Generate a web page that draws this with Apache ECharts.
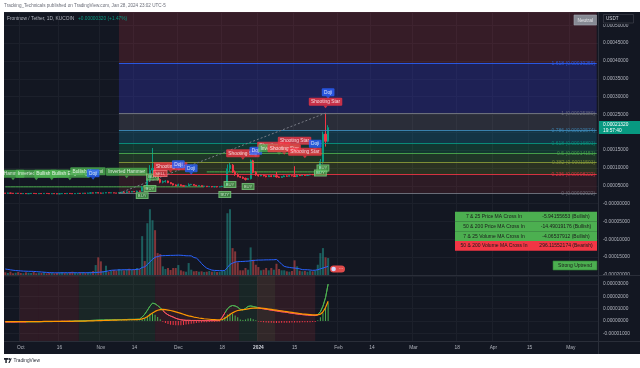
<!DOCTYPE html>
<html>
<head>
<meta charset="utf-8">
<title>Frontnow / Tether 1D</title>
<script src="https://cdn.jsdelivr.net/npm/echarts@6/dist/echarts.min.js"></script>
<style>
html,body{margin:0;padding:0;background:#ffffff;}
#chart{width:640px;height:368px;}
</style>
</head>
<body>
<div id="chart"></div>
<script>
// ================= DATA (prices in units of 1e-5 USDT) =================
const priceUnit = 1e-5;
const firstDay = '2023-09-25';
const lastDay = '2024-05-11';

// daily candles from 2023-09-25 to 2024-01-28: [open, close, low, high]
const candles = [
[2.95,2.90,2.82,3.02],[2.90,2.97,2.86,3.05],[2.97,2.93,2.88,3.03],[2.93,2.86,2.80,2.98],[2.86,2.92,2.82,2.99],
[2.92,2.88,2.83,2.96],[2.88,2.80,2.74,2.93],[2.80,2.85,2.76,2.92],[2.85,2.78,2.72,2.90],[2.78,2.83,2.74,2.88],
[2.83,2.90,2.79,2.97],[2.90,2.84,2.80,2.95],[2.84,2.79,2.73,2.88],[2.79,2.86,2.75,2.91],[2.86,2.82,2.77,2.93],
[2.82,2.88,2.78,2.95],[2.88,2.84,2.79,2.92],[2.84,2.77,2.71,2.89],[2.77,2.83,2.73,2.90],[2.83,2.80,2.75,2.88],
[2.80,2.74,2.68,2.85],[2.74,2.79,2.70,2.84],[2.79,2.85,2.75,2.92],[2.85,2.81,2.76,2.90],[2.81,2.88,2.78,2.95],
[2.88,2.83,2.79,2.97],[2.83,2.78,2.72,2.88],[2.78,2.84,2.74,2.90],[2.84,2.90,2.80,2.98],[2.90,2.86,2.81,2.94],
[2.86,2.93,2.83,3.00],[2.93,2.89,2.84,2.98],[2.89,2.95,2.86,3.06],[2.95,3.02,2.90,3.12],[3.02,2.96,2.90,3.10],
[2.96,3.08,2.92,3.25],[3.08,2.97,2.90,3.20],[2.97,2.93,2.88,3.08],[2.93,2.99,2.90,3.06],[2.99,3.06,2.95,3.14],
[3.06,3.00,2.96,3.10],[3.00,3.04,2.96,3.09],[3.04,2.98,2.94,3.07],[2.98,2.95,2.93,3.02],[2.95,3.08,2.922,3.15],
[3.08,3.20,3.04,3.30],[3.20,3.14,3.08,3.28],[3.14,3.30,3.10,3.40],[3.30,3.26,3.18,3.42],[3.26,3.40,3.22,3.50],
[3.40,3.36,3.28,3.55],[3.36,3.52,3.32,3.65],[3.52,3.48,3.40,3.62],[3.48,4.60,3.44,5.00],[4.60,4.20,4.05,4.80],
[4.20,6.60,4.15,7.20],[6.60,9.40,6.30,10.8],[9.40,9.90,8.50,15.6],[9.90,7.80,7.50,10.4],[7.80,6.80,6.50,8.20],
[6.80,6.00,5.70,7.10],[6.00,6.20,5.70,6.50],[6.20,6.35,5.90,6.60],[6.35,5.90,5.75,6.45],[5.90,5.60,5.45,6.00],
[5.60,5.25,5.10,5.70],[5.25,5.00,4.85,5.40],[5.00,5.30,4.95,5.60],[5.30,5.05,4.95,5.40],[5.05,4.90,4.80,5.15],
[4.90,4.95,4.80,5.05],[4.95,5.30,4.90,5.70],[5.30,5.40,5.15,5.55],[5.40,5.15,5.05,5.45],[5.15,4.95,4.85,5.20],
[4.95,5.05,4.90,5.15],[5.05,4.85,4.75,5.10],[4.85,4.90,4.75,5.00],[4.90,4.75,4.65,4.95],[4.75,4.80,4.65,4.90],
[4.80,4.70,4.60,4.85],[4.70,4.78,4.62,4.88],[4.78,4.68,4.58,4.82],[4.68,4.74,4.60,4.85],[4.74,4.85,4.65,5.00],
[4.85,5.20,4.80,5.60],[5.20,9.80,5.10,11.0],[9.80,10.8,8.90,11.4],[10.8,8.90,8.60,11.1],[8.90,8.20,7.80,9.30],
[8.20,7.60,7.40,8.50],[7.60,7.40,7.20,7.80],[7.40,7.10,6.90,7.60],[7.10,6.80,6.50,7.30],[6.80,7.00,6.70,7.20],
[7.00,12.0,6.80,12.4],[12.0,8.80,8.50,12.3],[8.80,8.10,7.80,9.10],[8.10,7.80,7.60,8.30],[7.80,8.00,7.70,8.20],
[8.00,7.80,7.65,8.10],[7.80,7.55,7.40,7.90],[7.55,7.80,7.50,8.00],[7.80,7.60,7.45,7.95],[7.60,7.85,7.55,8.05],
[7.85,7.50,7.30,8.90],[7.50,7.35,7.20,7.65],[7.35,7.55,7.30,7.70],[7.55,7.75,7.50,7.95],[7.75,7.70,7.60,7.90],
[7.70,7.85,7.65,8.00],[7.85,7.80,7.70,7.95],[7.80,7.60,7.50,10.5],[7.60,7.95,7.55,8.30],[7.95,7.85,7.75,8.10],
[7.85,8.00,7.80,8.15],[8.00,7.90,7.80,8.10],[7.90,8.05,7.85,8.20],[8.05,8.20,7.95,8.35],[8.20,8.10,8.00,8.30],
[8.10,8.40,8.05,8.60],[8.40,8.90,8.30,9.30],[8.90,11.8,8.70,12.5],[11.8,19.5,11.2,20.2],[19.5,17.5,16.0,25.38],
[17.5,21.32,17.2,22.0]
];

// volume (relative units)
const volume = [
2.7,2.0,3.3,1.7,2.3,3.0,2.0,1.7,2.7,2.3,
2.0,3.0,1.7,2.3,2.0,2.7,1.7,2.0,2.3,1.7,
2.0,2.7,3.0,2.3,2.0,2.7,3.3,2.3,2.0,2.7,
3.0,2.3,2.7,3.3,4.0,10.0,17.7,13.7,4.0,9.3,
3.3,4.0,5.0,4.3,6.0,5.3,4.7,5.7,6.3,5.0,
5.7,7.0,6.0,39,14,52,66,55,45,22,
21,8.7,6,7,5,7,7,10,4.7,3.7,
3.3,12,5.3,3.7,4.0,3.3,3.7,3.0,3.3,4.0,
3.3,3.7,3.0,3.3,4.0,4.3,62,66,27,23.7,
12.7,4.7,4.7,7,5.3,27.7,15.3,10.3,8,4.7,
5.3,7,4.7,7,5.3,11.3,6,4.7,4.7,3.7,
3.3,4.0,14.7,8.7,4.3,3.7,4.0,3.3,4.0,3.7,
4.3,10.3,22,27,17.7,17
];

// volume moving average (blue line)
const volumeMA = [
6.0,5.6,5.2,4.8,4.5,4.3,4.1,3.9,3.8,3.7,
3.7,3.6,3.4,3.2,3.0,2.8,2.6,2.4,2.3,2.2,
2.2,2.2,2.2,2.3,2.3,2.3,2.3,2.3,2.3,2.3,
2.3,2.3,2.3,2.3,2.4,2.5,2.7,2.9,3.2,3.6,
4.2,4.7,4.9,5.0,5.1,5.2,5.3,5.3,5.3,5.3,
5.4,5.6,6.0,7.6,8.2,10.4,13.2,15.7,17.8,18.5,
19.3,19.4,19.5,19.6,19.7,19.7,19.8,19.9,19.8,19.6,
19.3,19.3,19.2,17.6,17.0,14.6,11.5,8.9,6.9,5.8,
4.9,4.6,4.5,4.4,4.4,4.5,7.4,10.6,11.9,13.0,
13.4,13.5,13.6,13.8,13.9,14.3,14.6,14.8,15.0,15.0,
15.1,15.2,15.2,15.3,15.3,15.6,13.5,10.8,8.7,8.0,
7.6,7.2,7.0,6.6,6.2,5.4,5.3,5.3,5.0,4.7,
4.8,5.3,6.2,7.0,7.8,8.7
];

// oscillator pane (units of 1e-5)
const macd = [
-0.08,-0.08,-0.08,-0.08,-0.08,-0.07,-0.07,-0.07,-0.07,-0.06,
-0.06,-0.06,-0.06,-0.06,-0.05,-0.05,-0.05,-0.05,-0.05,-0.04,
-0.04,-0.04,-0.03,-0.03,-0.03,-0.02,-0.02,-0.01,-0.01,0.00,
0.01,0.02,0.03,0.04,0.05,0.06,0.07,0.08,0.08,0.09,
0.09,0.10,0.10,0.10,0.11,0.11,0.12,0.12,0.13,0.13,
0.13,0.14,0.15,0.32,0.55,0.86,1.20,1.45,1.40,1.25,
1.08,0.85,0.65,0.50,0.40,0.32,0.22,0.15,0.10,0.07,
0.05,0.05,0.04,0.04,0.04,0.04,0.03,0.03,0.03,0.03,
0.03,0.03,0.03,0.03,0.30,0.65,0.99,1.18,1.26,1.22,
1.12,0.95,0.90,1.02,1.18,1.22,1.18,1.13,1.08,1.02,
0.99,0.95,0.92,0.88,0.85,0.82,0.78,0.75,0.73,0.70,
0.66,0.63,0.60,0.57,0.54,0.52,0.50,0.48,0.46,0.45,
0.44,0.50,0.75,1.20,1.90,3.00
];
const signalLine = [
-0.05,-0.05,-0.05,-0.05,-0.05,-0.05,-0.05,-0.05,-0.05,-0.05,
-0.05,-0.05,-0.05,-0.05,-0.05,-0.04,-0.04,-0.04,-0.04,-0.04,
-0.04,-0.04,-0.04,-0.03,-0.03,-0.03,-0.03,-0.02,-0.02,-0.02,
-0.01,-0.01,0.00,0.00,0.01,0.02,0.03,0.03,0.04,0.05,
0.05,0.06,0.07,0.07,0.08,0.08,0.09,0.09,0.10,0.10,
0.11,0.11,0.12,0.17,0.24,0.35,0.50,0.65,0.78,0.87,
0.92,0.94,0.92,0.89,0.85,0.80,0.74,0.68,0.62,0.55,
0.48,0.42,0.37,0.32,0.28,0.24,0.21,0.18,0.16,0.14,
0.12,0.11,0.10,0.09,0.12,0.22,0.36,0.52,0.66,0.77,
0.85,0.89,0.92,0.95,0.99,1.02,1.04,1.05,1.05,1.04,
1.02,1.00,0.97,0.94,0.91,0.88,0.85,0.82,0.79,0.76,
0.73,0.70,0.67,0.64,0.61,0.58,0.56,0.54,0.52,0.50,
0.49,0.49,0.55,0.73,1.10,1.60
];
const histogram = [
-0.03,-0.03,-0.03,-0.03,-0.03,-0.03,-0.03,-0.03,-0.03,-0.03,
-0.02,-0.02,-0.02,-0.02,-0.02,-0.02,-0.02,-0.02,-0.02,-0.02,
-0.02,-0.02,0.01,0.01,0.01,0.02,0.02,0.02,0.02,0.02,
0.02,0.03,0.03,0.04,0.04,0.04,0.04,0.05,0.04,0.04,
0.04,0.04,0.03,0.03,0.03,0.03,0.03,0.03,0.03,0.03,
0.02,0.03,0.03,0.12,0.25,0.42,0.58,0.60,0.50,0.33,
0.15,-0.06,-0.17,-0.25,-0.30,-0.33,-0.35,-0.35,-0.34,-0.32,
-0.29,-0.26,-0.23,-0.20,-0.17,-0.15,-0.13,-0.11,-0.10,-0.08,
-0.07,-0.06,-0.05,-0.04,0.15,0.35,0.52,0.60,0.58,0.45,
0.30,0.12,0.08,0.12,0.20,0.22,0.15,0.06,-0.05,-0.08,
-0.10,-0.12,-0.14,-0.15,-0.16,-0.16,-0.16,-0.15,-0.15,-0.14,
-0.14,-0.13,-0.13,-0.12,-0.12,-0.11,-0.11,-0.10,-0.10,-0.09,
-0.08,0.05,0.30,0.65,1.05,1.50
];

// time-axis ticks
const tickDates = ['2023-10-01','2023-10-16','2023-11-01','2023-11-14','2023-12-01','2023-12-18','2024-01-01','2024-01-15','2024-02-01','2024-02-14','2024-03-01','2024-03-18','2024-04-01','2024-04-15','2024-05-01'];
const tickLabels = ['Oct','16','Nov','14','Dec','18','2024','15','Feb','14','Mar','18','Apr','15','May'];

// Fibonacci retracement drawing
const fibAnchorDate = '2023-11-08';
const fibHighDate = '2024-01-27';
const fibLow = 2.922;
const fibHigh = 25.380;
const fibLevels = [0, 0.236, 0.382, 0.5, 0.618, 0.786, 1, 1.618, 2.618];

// horizontal support lines [from, to, price]
const supportSteps = [['2023-09-25','2023-12-11',4.71],['2023-12-12','2024-01-28',8.91]];

// trend background bands in oscillator pane [start, kind]
const trendBands = [['2023-09-25','bear'],['2023-10-03','bull'],['2023-10-14','bear'],['2023-10-20','bull'],['2023-11-25','bear'],['2023-12-19','bull'],['2024-01-01','bear'],['2024-01-24','bull']];
const trendBandsEnd = '2024-01-29';

// candle pattern labels [date, text, kind, price at pointer tip]
const patternLabels = [
['2023-09-28','Hammer','bull',6.56],
['2023-10-07','Inverted Hammer','bull',6.56],
['2023-10-13','Bullish Harami','bull',6.56],
['2023-10-20','Bullish Engulfing','bull',6.56],
['2023-10-27','Bullish Harami','bull',7.26],
['2023-10-29','Doji','doji',6.70],
['2023-11-11','Inverted Hammer','bull',7.12],
['2023-11-28','Shooting Star','bear',8.66],
['2023-12-01','Doji','doji',9.22],
['2023-12-06','Doji','doji',8.10],
['2023-12-26','Shooting Star','bear',12.31],
['2024-01-07','Shooting Star','bear',14.41],
['2023-12-31','Doji','doji',13.01],
['2024-01-09','Inverted Hammer','bull',13.71],
['2024-01-11','Shooting Star','bear',13.71],
['2024-01-15','Shooting Star','bear',15.81],
['2024-01-19','Shooting Star','bear',12.73],
['2024-01-23','Doji','doji',14.97],
['2024-01-27','Shooting Star','bear',26.75],
['2024-01-28','Doji','doji',29.41]
];

// buy / sell signal boxes [date, text, price]
const signalLabels = [
['2023-11-17','BUY',2.28],['2023-11-20','BUY',4.25],['2023-11-21','BUY',7.47],['2023-11-24','SELL',8.45],
['2023-12-19','BUY',2.57],['2023-12-21','BUY',5.37],['2023-12-28','BUY',4.81],
['2024-01-25','BUY',8.59],['2024-01-26','BUY',9.99]
];

// statistics table
const statsRows = [
['7 & 25 Price MA Cross In','-5.94155653 (Bullish)','bull'],
['50 & 200 Price MA Cross In','-14.49019176 (Bullish)','bull'],
['7 & 25 Volume MA Cross In','-4.06537912 (Bullish)','bull'],
['50 & 200 Volume MA Cross In','296.11552174 (Bearish)','bear']
];
const lastClose = 21.32;
const headerText = 'Tracking_Technicals published on TradingView.com, Jan 28, 2024 23:02 UTC-5';
const symbolText = 'Frontnow / Tether, 1D, KUCOIN';
const changeText = '+0.00000320 (+1.47%)';

// ================= STYLE =================
const FONT = '"Liberation Sans", Arial, sans-serif';
const upColor = '#089981', downColor = '#f23645';
const gridColor = '#1c202b';
const axisText = '#b2b5be';
const fibLineColors = ['#787b86','#f23645','#8f9f3a','#4caf50','#089981','#3f8fc0','#787b86','#2962ff','#f23645'];
const fibZoneColors = ['rgba(242,54,69,0.12)','rgba(150,180,40,0.18)','rgba(80,180,60,0.20)','rgba(20,170,100,0.22)','rgba(20,120,150,0.30)','rgba(120,123,134,0.23)','rgba(60,60,230,0.26)','rgba(242,54,69,0.16)'];
const patternColors = { bull:'#4caf50', bear:'#f23645', doji:'#2962ff' };
const bandColors = { bull:'rgba(76,175,80,0.10)', bear:'rgba(242,54,69,0.12)' };
const lineColors = { bull:'#4caf50', bear:'#f7525f' };

const yMin = -20, yMax = 53.73;
const oscMin = -1.63, oscMax = 3.66;

// ================= BUILD =================
const categories = [];
for (let t = Date.parse(firstDay + 'T00:00:00Z'); t <= Date.parse(lastDay + 'T00:00:00Z'); t += 86400000) {
  categories.push(new Date(t).toISOString().slice(0, 10));
}
const tickSet = new Set(tickDates);
const isTick = (idx, val) => tickSet.has(val !== undefined ? val : categories[idx]);
const fibPrice = l => fibLow + l * (fibHigh - fibLow);
const visibleFib = fibLevels.filter(l => fibPrice(l) < yMax);

const fibZones = fibLevels.slice(0, -1).map((l, k) => [
  { xAxis: fibAnchorDate, yAxis: fibPrice(l), itemStyle: { color: fibZoneColors[k] } },
  { xAxis: lastDay, yAxis: Math.min(fibPrice(fibLevels[k + 1]), yMax) }
]);
const fibLines = visibleFib.map(l => [
  { xAxis: fibAnchorDate, yAxis: fibPrice(l), lineStyle: { color: fibLineColors[fibLevels.indexOf(l)], width: 1, type: 'solid', opacity: 0.85 } },
  { xAxis: lastDay, yAxis: fibPrice(l) }
]);
fibLines.push([
  { xAxis: fibAnchorDate, yAxis: fibLow, lineStyle: { color: '#787b86', width: 1, type: [2, 2] } },
  { xAxis: fibHighDate, yAxis: fibHigh }
]);

const bandAreas = trendBands.map((b, k) => [
  { xAxis: b[0], itemStyle: { color: bandColors[b[1]] } },
  { xAxis: k + 1 < trendBands.length ? trendBands[k + 1][0] : trendBandsEnd }
]);
const macdPieces = trendBands.map((b, k) => {
  const p = { gte: categories.indexOf(b[0]), color: lineColors[b[1]] };
  if (k + 1 < trendBands.length) p.lt = categories.indexOf(trendBands[k + 1][0]);
  return p;
});

const volMax = Math.max(...volume);
const series = [];

// fib zones / lines / trend
series.push({
  type: 'line', xAxisIndex: 0, yAxisIndex: 0, z: 1, silent: true, symbol: 'none',
  data: candles.map(() => null),
  markArea: { silent: true, data: fibZones },
  markLine: { silent: true, symbol: ['none', 'none'], label: { show: false }, data: fibLines }
});
// support lines
supportSteps.forEach(s => {
  series.push({
    type: 'line', xAxisIndex: 0, yAxisIndex: 0, z: 3, silent: true, symbol: 'none',
    lineStyle: { color: '#4caf50', width: 1 },
    data: categories.map(d => (d >= s[0] && d <= s[1]) ? s[2] : null)
  });
});
// volume
series.push({
  type: 'bar', xAxisIndex: 0, yAxisIndex: 1, z: 2, silent: true, barWidth: '78%',
  data: volume.map((v, i) => ({ value: v, itemStyle: { color: candles[i][1] >= candles[i][0] ? 'rgba(38,166,154,0.5)' : 'rgba(239,83,80,0.5)' } }))
});
series.push({
  type: 'line', xAxisIndex: 0, yAxisIndex: 1, z: 3, silent: true, symbol: 'none',
  lineStyle: { color: '#2962ff', width: 1 }, data: volumeMA
});
// candles
series.push({
  type: 'candlestick', xAxisIndex: 0, yAxisIndex: 0, z: 4, silent: true, barWidth: '62%',
  itemStyle: { color: upColor, color0: downColor, borderColor: upColor, borderColor0: downColor, borderWidth: 1 },
  data: candles
});
// fib labels
series.push({
  type: 'scatter', xAxisIndex: 0, yAxisIndex: 0, z: 5, silent: true, symbolSize: 1,
  itemStyle: { color: 'rgba(0,0,0,0)' },
  label: { show: true, position: 'left', distance: 1, fontSize: 5, fontFamily: FONT, formatter: '{b}' },
  data: visibleFib.map(l => ({
    name: l + ' (' + (fibPrice(l) * priceUnit).toFixed(8) + ')',
    value: [lastDay, fibPrice(l)],
    label: { color: fibLineColors[fibLevels.indexOf(l)] }
  }))
});
// pattern labels
series.push({
  type: 'scatter', xAxisIndex: 0, yAxisIndex: 0, z: 6, silent: true,
  symbol: 'path://M0,0L10,0L5,6Z', symbolSize: [4, 2.6], symbolOffset: [0, -1.3],
  label: { show: true, position: 'top', distance: 0, color: '#ffffff', fontSize: 4.8, fontFamily: FONT, padding: [1.6, 2.2, 1.2, 2.2], borderRadius: 1 },
  data: patternLabels.map(p => ({
    value: [p[0], p[3]],
    itemStyle: { color: patternColors[p[2]] },
    label: { formatter: p[1], backgroundColor: patternColors[p[2]] }
  }))
});
// buy / sell boxes
series.push({
  type: 'scatter', xAxisIndex: 0, yAxisIndex: 0, z: 7, silent: true, symbolSize: 1,
  itemStyle: { color: 'rgba(0,0,0,0)' },
  label: { show: true, position: 'inside', fontSize: 4.2, fontFamily: FONT, padding: [1, 1.5, 0.6, 1.5], borderWidth: 0.6 },
  data: signalLabels.map(s => ({
    value: [s[0], s[2]],
    label: s[1] === 'BUY'
      ? { formatter: s[1], backgroundColor: 'rgba(76,175,80,0.8)', borderColor: '#86d68a', color: '#d9f5d9' }
      : { formatter: s[1], backgroundColor: 'rgba(242,54,69,0.85)', borderColor: '#ff8a8a', color: '#ffe0e0' }
  }))
});
// oscillator
series.push({
  type: 'bar', xAxisIndex: 1, yAxisIndex: 2, z: 2, silent: true, barWidth: 1,
  data: histogram.map(v => ({ value: v, itemStyle: { color: v >= 0 ? '#4caf50' : '#f23645' } })),
  markArea: { silent: true, data: bandAreas }
});
const MACD_IDX = series.length;
series.push({
  type: 'line', xAxisIndex: 1, yAxisIndex: 2, z: 3, silent: true, symbol: 'none',
  lineStyle: { width: 1 }, data: macd
});
series.push({
  type: 'line', xAxisIndex: 1, yAxisIndex: 2, z: 4, silent: true, symbol: 'none',
  lineStyle: { width: 1.2, color: '#ff9800' }, data: signalLine
});

const priceFmt = v => {
  if (Math.abs(v - 20) < 1e-9) return '';
  if (Math.abs(v) < 1e-9) return '-0.00000000';
  return (v * priceUnit).toFixed(8);
};

const option = {
  animation: false,
  backgroundColor: '#131722',
  textStyle: { fontFamily: FONT },
  grid: [
    { left: 4, right: 42, top: 12, height: 263 },
    { left: 4, right: 42, top: 276, height: 65 }
  ],
  xAxis: [
    { type: 'category', gridIndex: 0, data: categories, axisLine: { show: false }, axisTick: { show: false }, axisLabel: { show: false },
      splitLine: { show: true, interval: isTick, lineStyle: { color: gridColor, width: 1 } } },
    { type: 'category', gridIndex: 1, data: categories, axisLine: { show: false }, axisTick: { show: false },
      axisLabel: { interval: isTick, margin: 4, fontSize: 4.8, color: axisText, fontFamily: FONT,
        formatter: v => { const k = tickDates.indexOf(v); return tickLabels[k] === '2024' ? '{b|2024}' : tickLabels[k]; },
        rich: { b: { fontWeight: 'bold', fontSize: 4.8, color: '#d1d4dc', fontFamily: FONT } } },
      splitLine: { show: true, interval: isTick, lineStyle: { color: gridColor, width: 1 } } }
  ],
  yAxis: [
    { type: 'value', gridIndex: 0, position: 'right', min: yMin, max: yMax, interval: 5, scale: false,
      axisLine: { show: false }, axisTick: { show: false },
      axisLabel: { showMaxLabel: false, margin: 5, fontSize: 4.8, color: axisText, fontFamily: FONT, formatter: priceFmt },
      splitLine: { lineStyle: { color: gridColor, width: 1 } } },
    { type: 'value', gridIndex: 0, show: false, min: 0, max: volMax * 4, splitLine: { show: false } },
    { type: 'value', gridIndex: 1, position: 'right', min: oscMin, max: oscMax, splitNumber: 5,
      axisLine: { show: false }, axisTick: { show: false },
      axisLabel: { showMinLabel: false, showMaxLabel: false, margin: 5, fontSize: 4.8, color: axisText, fontFamily: FONT,
        formatter: v => (v * priceUnit).toFixed(8) },
      splitLine: { lineStyle: { color: gridColor, width: 1 } } }
  ],
  visualMap: [{ type: 'piecewise', show: false, seriesIndex: MACD_IDX, dimension: 0, pieces: macdPieces }],
  series: series
};

const chart = echarts.init(document.getElementById('chart'), null, { renderer: 'canvas' });
chart.setOption(option);

// ================= OVERLAYS =================
const T = (x, y, text, fill, size, align, weight) => ({
  type: 'text', x: x, y: y, z: 110, silent: true,
  style: { text: text, fill: fill, fontSize: size, fontFamily: FONT, fontWeight: weight || 'normal', textAlign: align || 'left', textVerticalAlign: 'middle' }
});
const R = (x, y, w, h, fill, stroke, r, z) => ({
  type: 'rect', z: z || 105, silent: true, shape: { x: x, y: y, width: w, height: h, r: r || 0 },
  style: { fill: fill, stroke: stroke || null, lineWidth: stroke ? 0.6 : 0 }
});
const L = (x1, y1, x2, y2, c) => ({ type: 'line', z: 104, silent: true, shape: { x1: x1, y1: y1, x2: x2, y2: y2 }, style: { stroke: c, lineWidth: 1 } });

const tagY = chart.convertToPixel({ yAxisIndex: 0 }, lastClose);
const g = [];
g.push(R(0, 0, 640, 12, '#ffffff', null, 0, 100));
g.push(R(0, 0, 4, 368, '#ffffff', null, 0, 100));
g.push(R(0, 354, 640, 14, '#ffffff', null, 0, 100));
g.push(T(4, 6, headerText, '#6a6d78', 4.6));
g.push(T(7, 18.5, symbolText, '#b2b5be', 4.8));
g.push(T(78, 18.5, changeText, '#089981', 4.8));
g.push(L(4, 275.5, 640, 275.5, '#2a2e39'));
g.push(L(4, 341.5, 640, 341.5, '#2a2e39'));
g.push(L(598.5, 12, 598.5, 354, '#2a2e39'));
// USDT & Neutral
g.push(R(600, 12.5, 40, 11.5, '#131722'));
g.push(R(603.5, 14.5, 30, 8.5, '#131722', '#434651'));
g.push(T(606, 18.8, 'USDT', '#d1d4dc', 4.6));
g.push(R(574, 15, 22.5, 10, '#868993', '#a3a6af'));
g.push(T(585.2, 20.2, 'Neutral', '#e6e7ea', 4.8, 'center'));
// price tag
g.push(R(599, tagY - 6.5, 41, 13, '#089981'));
g.push(T(603, tagY - 3, (lastClose * priceUnit).toFixed(8), '#ffffff', 4.8));
g.push(T(603, tagY + 3.2, '19:57:40', '#ffffff', 4.8));
// stats table
statsRows.forEach((r, k) => {
  const y = 211.7 + k * 9.75;
  g.push(R(455, y, 142, 9.75, r[2] === 'bull' ? '#4caf50' : '#f23645'));
  g.push(T(494, y + 5, r[0], '#1b1b1b', 5, 'center'));
  g.push(T(566, y + 5, r[1], '#1b1b1b', 5, 'center'));
});
g.push(R(553, 261, 44, 9, '#4caf50', '#2e7d32'));
g.push(T(575, 265.6, 'Strong Uptrend', '#1b1b1b', 5, 'center'));
// small badge at the last volume bar
g.push(R(330, 265.5, 15, 7, '#e04a4a', null, 3.5, 106));
g.push({ type: 'circle', z: 107, silent: true, shape: { cx: 333.6, cy: 269, r: 2.3 }, style: { fill: '#cfd8ff' } });
g.push(T(341, 269.2, '···', '#ffffff', 4.5, 'center'));
// TradingView logo
g.push(R(4, 358, 4.2, 1.8, '#1e222d', null, 0, 106));
g.push(R(5.3, 358, 1.5, 5, '#1e222d', null, 0, 106));
g.push({ type: 'circle', z: 107, silent: true, shape: { cx: 9.3, cy: 359, r: 0.9 }, style: { fill: '#1e222d' } });
g.push({ type: 'polygon', z: 107, silent: true, shape: { points: [[8.3, 363], [10.6, 358.2], [11.8, 358.2], [9.6, 363]] }, style: { fill: '#1e222d' } });
g.push(T(13.5, 360.6, 'TradingView', '#2a2e39', 4.8));

chart.setOption({ graphic: g });
</script>
</body>
</html>
